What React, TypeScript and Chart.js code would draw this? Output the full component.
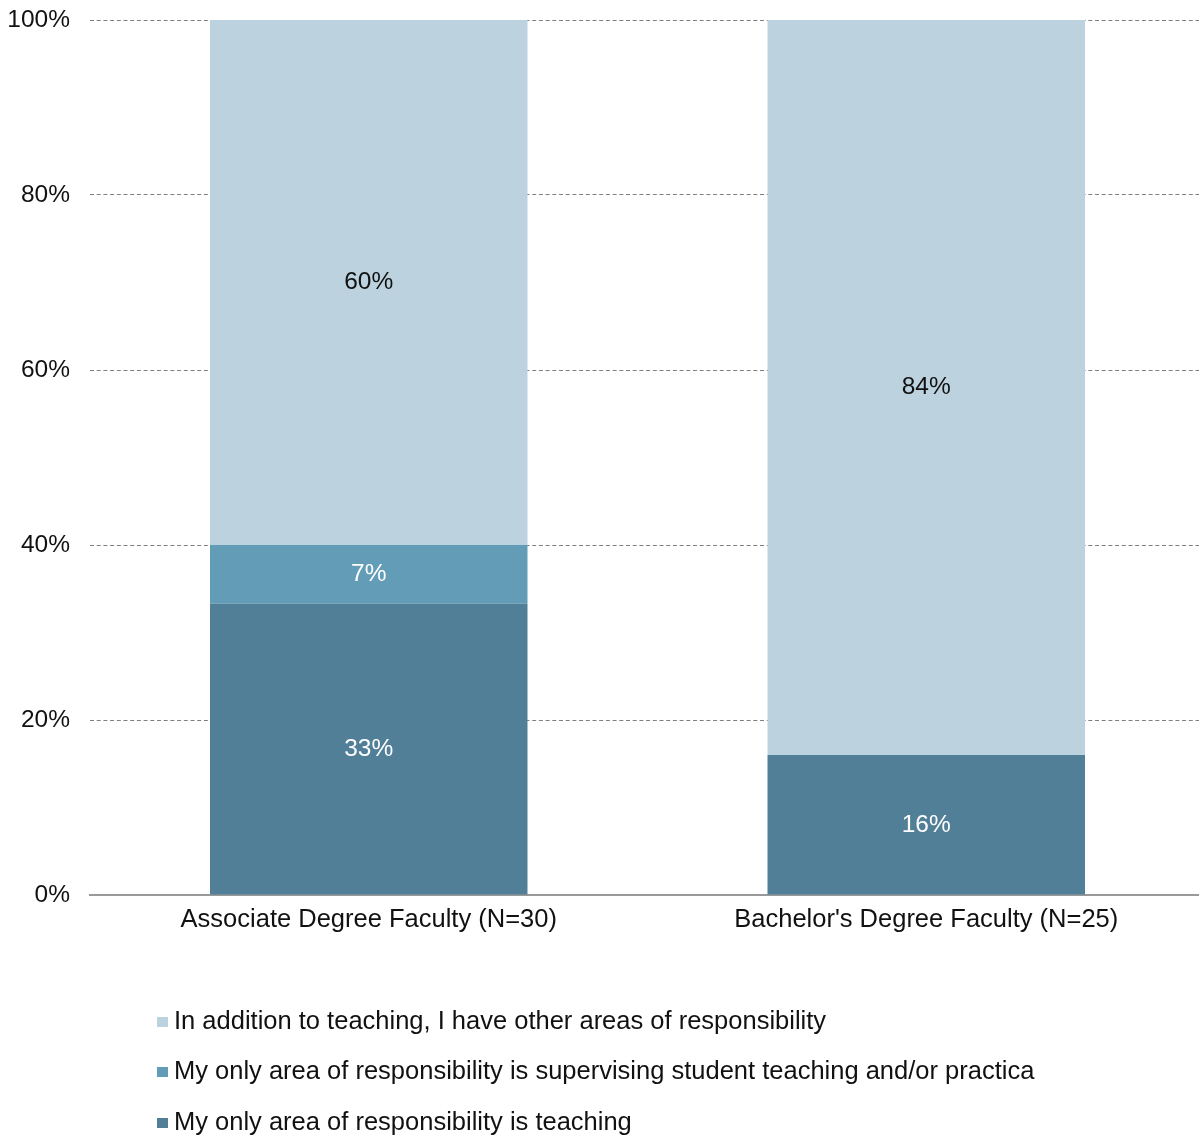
import React, { useEffect, useRef } from "react";
import { Chart, registerables } from "chart.js";

Chart.register(...registerables);

const categories = ["Associate Degree Faculty (N=30)", "Bachelor's Degree Faculty (N=25)"];
const seriesNames = [
  "My only area of responsibility is teaching",
  "My only area of responsibility is supervising student teaching and/or practica",
  "In addition to teaching, I have other areas of responsibility",
];
const teachingOnly = [33.3, 16];
const supervisingOnly = [6.7, 0];
const otherAreas = [60, 84];
const yTickValues = [0, 20, 40, 60, 80, 100];

const COLORS = ["#527F98", "#629CB7", "#BCD3DF"];
const LABEL_COLORS = ["#FFFFFF", "#FFFFFF", "#111111"];
const FONT = "'Liberation Sans', Arial, Helvetica, sans-serif";
const FS_NUM = 24.5;
const FS_TXT = 25.5;

const valueLabels = {
  id: "valueLabels",
  afterDatasetsDraw(chart: any) {
    const ctx = chart.ctx;
    ctx.save();
    ctx.font = `${FS_NUM}px ${FONT}`;
    ctx.textAlign = "center";
    ctx.textBaseline = "middle";
    chart.data.datasets.forEach((ds: any, di: number) => {
      const meta = chart.getDatasetMeta(di);
      meta.data.forEach((el: any, i: number) => {
        const v = ds.data[i];
        if (!v) return;
        const p = el.getProps(["x", "y", "base"], true);
        ctx.fillStyle = LABEL_COLORS[di];
        ctx.fillText(Math.round(v) + "%", p.x, (p.y + p.base) / 2);
      });
    });
    ctx.restore();
  },
};

const customLegend = {
  id: "customLegend",
  afterDraw(chart: any) {
    const ctx = chart.ctx;
    ctx.save();
    ctx.font = `${FS_TXT}px ${FONT}`;
    ctx.textBaseline = "middle";
    ctx.textAlign = "left";
    const order = [2, 1, 0];
    const rowsY = [1011, 1061, 1112];
    order.forEach((di, r) => {
      const y = rowsY[r];
      ctx.fillStyle = COLORS[di];
      ctx.fillRect(149, y - 2, 11, 10);
      ctx.fillStyle = "#111111";
      ctx.fillText(seriesNames[di], 166, y + 3);
    });
    ctx.restore();
  },
};

export default function App() {
  const ref = useRef<HTMLCanvasElement | null>(null);
  useEffect(() => {
    if (!ref.current) return;
    const chart = new Chart(ref.current, {
      type: "bar",
      data: {
        labels: categories,
        datasets: [
          { label: seriesNames[0], data: teachingOnly, backgroundColor: COLORS[0] },
          { label: seriesNames[1], data: supervisingOnly, backgroundColor: COLORS[1] },
          { label: seriesNames[2], data: otherAreas, backgroundColor: COLORS[2] },
        ],
      },
      options: {
        animation: false,
        responsive: false,
        maintainAspectRatio: false,
        layout: { padding: { top: 0, bottom: 201, right: 0, left: 0 } },
        datasets: { bar: { categoryPercentage: 1, barPercentage: 0.5695 } } as any,
        plugins: { legend: { display: false }, tooltip: { enabled: false } },
        scales: {
          x: {
            stacked: true,
            grid: { display: false, drawTicks: false },
            border: { display: true, color: "#999999", width: 2 },
            ticks: { color: "#111", font: { family: FONT, size: FS_TXT }, padding: 10, maxRotation: 0 },
            afterFit(scale: any) {
              scale.height = 40;
            },
          },
          y: {
            stacked: true,
            min: 0,
            max: 100,
            afterBuildTicks(scale: any) {
              scale.ticks = yTickValues.map((v) => ({ value: v }));
            },
            afterFit(scale: any) {
              scale.width = 82;
              scale.paddingTop = 12;
              scale.paddingBottom = 0;
            },
            grid: {
              drawTicks: false,
              color: (c: any) => (c.tick && c.tick.value === 0 ? "rgba(0,0,0,0)" : "#808080"),
              lineWidth: 1,
            },
            border: { display: false, dash: [4, 2.7] },
            ticks: {
              color: "#111",
              font: { family: FONT, size: FS_NUM },
              padding: 20,
              callback: (v: any) => v + "%",
            },
          },
        },
      },
      plugins: [valueLabels, customLegend],
    });
    return () => chart.destroy();
  }, []);
  return (
    <div
      style={{
        boxSizing: "border-box",
        width: 1199,
        height: 1136,
        padding: "8px 0 0 8px",
        overflow: "hidden",
      }}
    >
      <style>{"body{margin:0}"}</style>
      <canvas ref={ref} width={1197} height={1128} style={{ display: "block", width: 1197, height: 1128 }} />
    </div>
  );
}
